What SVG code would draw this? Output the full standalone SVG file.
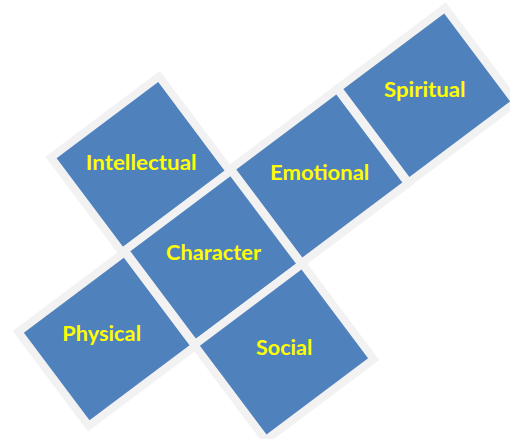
<svg xmlns="http://www.w3.org/2000/svg" width="510" height="439" viewBox="0 0 510 439">
  <style>
    .tile { fill: #4F81BD; stroke: #F2F2F2; stroke-width: 16; paint-order: stroke; stroke-linejoin: miter; }
    .label { font-family: Lato, "Open Sans", "Liberation Sans", sans-serif; font-weight: bold; font-size: 20px; fill: #FFFF00; text-anchor: middle; }
  </style>
  <rect width="510" height="439" fill="#FFFFFF"/>
  <g id="connectors"></g>
  <g id="node-intellectual">
    <rect class="tile" x="-63.5" y="-55.5" width="127" height="111" transform="translate(140.7 164.6) rotate(-36.87)"/>
    <text class="label" x="141.2" y="169.7" textLength="111" lengthAdjust="spacingAndGlyphs">Intellectual</text>
  </g>
  <g id="node-spiritual">
    <rect class="tile" x="-63" y="-55" width="126" height="110" transform="translate(426.8 95.2) rotate(-36.87)"/>
    <text class="label" x="424.8" y="97" textLength="81.7" lengthAdjust="spacingAndGlyphs">Spiritual</text>
  </g>
  <g id="node-emotional">
    <rect class="tile" x="-62.5" y="-55" width="125" height="110" transform="translate(319.3 176.1) rotate(-36.87)"/>
    <text class="label" x="319.7" y="179.7" textLength="99.3" lengthAdjust="spacingAndGlyphs">Emotional</text>
  </g>
  <g id="node-character">
    <rect class="tile" x="-62.5" y="-54.75" width="125" height="109.5" transform="translate(213.2 257.5) rotate(-36.87)"/>
    <text class="label" x="213.5" y="260.3" textLength="95" lengthAdjust="spacingAndGlyphs">Character</text>
  </g>
  <g id="node-physical">
    <rect class="tile" x="-62.5" y="-54.75" width="125" height="109.5" transform="translate(106.7 339) rotate(-36.87)"/>
    <text class="label" x="101.7" y="340.7" textLength="78.7" lengthAdjust="spacingAndGlyphs">Physical</text>
  </g>
  <g id="node-social">
    <rect class="tile" x="-63.5" y="-55.5" width="127" height="111" transform="translate(284 352) rotate(-36.87)"/>
    <text class="label" x="284.2" y="355.3" textLength="56.3" lengthAdjust="spacingAndGlyphs">Social</text>
  </g>
</svg>
